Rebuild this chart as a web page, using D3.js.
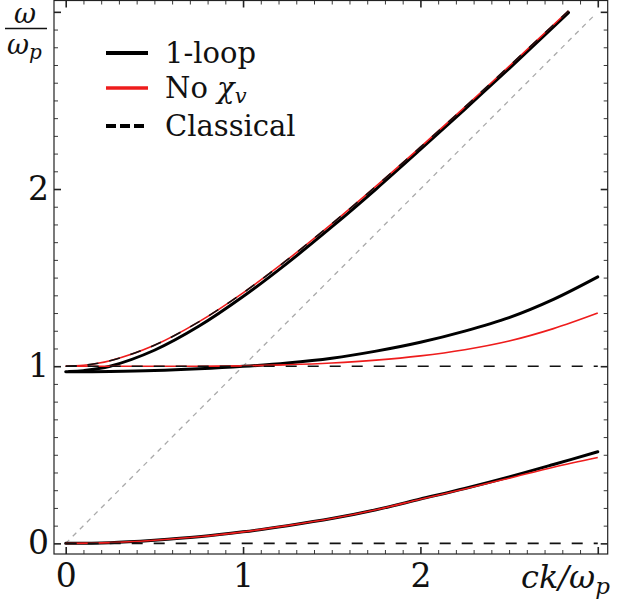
<!DOCTYPE html>
<html>
<head>
<meta charset="utf-8">
<script src="https://cdn.jsdelivr.net/npm/d3@7"></script>
<style>
  body { margin: 0; background: #fff; }
  svg text { font-family: "DejaVu Serif", serif; fill: #111; }
</style>
</head>
<body>
<div id="chart"></div>
<script>
// k grid for lower & middle branches
var kGrid = [0, 0.25, 0.5, 0.75, 1.0, 1.25, 1.5, 1.75, 2.0, 2.25, 2.5, 2.75, 3.0];
var loopLower = [0, 0.004, 0.018, 0.037, 0.065, 0.1, 0.14, 0.19, 0.25, 0.31, 0.375, 0.445, 0.517];
var noChiLower = [0, 0.004, 0.018, 0.037, 0.065, 0.1, 0.14, 0.19, 0.249, 0.307, 0.368, 0.43, 0.485];
var loopMiddle = [0.968, 0.97, 0.975, 0.985, 0.999, 1.018, 1.045, 1.085, 1.135, 1.198, 1.274, 1.377, 1.504];
var noChiMiddle = [1.0, 1.0, 1.0, 1.0, 1.002, 1.008, 1.018, 1.034, 1.058, 1.093, 1.142, 1.212, 1.30];

// upper (transverse) branch
var kUpperLoop = [0.02, 0.1, 0.25, 0.5, 0.75, 1.0, 1.25, 1.5, 1.75, 2.0, 2.25, 2.5, 2.835];
var loopUpper = [0.97, 0.975, 1.0, 1.09, 1.225, 1.393, 1.582, 1.786, 2.0, 2.223, 2.45, 2.68, 2.996];
var kUpper = [0, 0.1, 0.25, 0.5, 0.75, 1.0, 1.25, 1.5, 1.75, 2.0, 2.25, 2.5, 2.835];
var noChiUpper = [1.0, 1.005, 1.031, 1.118, 1.25, 1.414, 1.601, 1.803, 2.016, 2.236, 2.462, 2.693, 3.006];
var classicalUpper = [1.0, 1.005, 1.031, 1.118, 1.25, 1.414, 1.601, 1.803, 2.016, 2.236, 2.462, 2.693, 3.006];

// classical flat branches and light line
var kFlat = [0, 3.0];
var classicalOne = [1, 1];
var classicalZero = [0, 0];
var kLight = [0, 2.98];
var lightLine = [0, 2.98];

var majorTicks = [0, 1, 2, 3];
var tickLabels = ["0", "1", "2", ""];
var legendNames = ["1-loop", "No χv", "Classical"];

var width = 624, height = 610;
var frame = {left: 54, right: 607.7, top: 0.5, bottom: 554};

var svg = d3.select("#chart")
  .append("svg")
    .attr("width", width)
    .attr("height", height);

var x = d3.scaleLinear()
  .domain([-0.066, 3.056])
  .range([frame.left, frame.right]);

var y = d3.scaleLinear()
  .domain([-0.06, 3.064])
  .range([frame.bottom, frame.top]);

var minorTicks = d3.range(0, 31).map(function(i) { return i / 10; })
  .filter(function(v) { return Math.abs(v - Math.round(v)) > 1e-6; });

function styleAxis(g, w) {
  g.select(".domain").remove();
  g.attr("font-family", null).attr("font-size", null);
  g.selectAll(".tick line").attr("stroke", "#222").attr("stroke-width", w);
}

var fmt = function(d) { return tickLabels[majorTicks.indexOf(d)]; };

// minor ticks on all four sides
svg.append("g").attr("transform", "translate(0," + frame.bottom + ")")
  .call(d3.axisBottom(x).tickValues(minorTicks).tickSize(-4).tickFormat(""))
  .call(styleAxis, 0.9);
svg.append("g").attr("transform", "translate(0," + frame.top + ")")
  .call(d3.axisTop(x).tickValues(minorTicks).tickSize(-4).tickFormat(""))
  .call(styleAxis, 0.9);
svg.append("g").attr("transform", "translate(" + frame.left + ",0)")
  .call(d3.axisLeft(y).tickValues(minorTicks).tickSize(-4).tickFormat(""))
  .call(styleAxis, 0.9);
svg.append("g").attr("transform", "translate(" + frame.right + ",0)")
  .call(d3.axisRight(y).tickValues(minorTicks).tickSize(-4).tickFormat(""))
  .call(styleAxis, 0.9);

// major ticks + labels
var xAxis = svg.append("g").attr("transform", "translate(0," + frame.bottom + ")")
  .call(d3.axisBottom(x).tickValues(majorTicks).tickSize(-7).tickPadding(10).tickFormat(fmt))
  .call(styleAxis, 1.6);
xAxis.selectAll("text").attr("font-size", 33).attr("fill", "#111");

var yAxis = svg.append("g").attr("transform", "translate(" + frame.left + ",0)")
  .call(d3.axisLeft(y).tickValues(majorTicks).tickSize(-7).tickPadding(5).tickFormat(fmt))
  .call(styleAxis, 1.6);
yAxis.selectAll("text").attr("font-size", 33).attr("fill", "#111");

svg.append("g").attr("transform", "translate(0," + frame.top + ")")
  .call(d3.axisTop(x).tickValues(majorTicks).tickSize(-7).tickFormat(""))
  .call(styleAxis, 1.6);
svg.append("g").attr("transform", "translate(" + frame.right + ",0)")
  .call(d3.axisRight(y).tickValues(majorTicks).tickSize(-7).tickFormat(""))
  .call(styleAxis, 1.6);

// frame
svg.append("rect")
  .attr("x", frame.left).attr("y", frame.top)
  .attr("width", frame.right - frame.left)
  .attr("height", frame.bottom - frame.top)
  .attr("fill", "none").attr("stroke", "#222").attr("stroke-width", 1.2);

var line = d3.line()
  .x(function(d) { return x(d[0]); })
  .y(function(d) { return y(d[1]); })
  .curve(d3.curveCatmullRom.alpha(0.5));

function pairs(ks, vs) { return ks.map(function(k, i) { return [k, vs[i]]; }); }

var plot = svg.append("g");

// light line ω = ck
plot.append("path")
  .attr("d", line(pairs(kLight, lightLine)))
  .attr("fill", "none").attr("stroke", "#aaa").attr("stroke-width", 1.3)
  .attr("stroke-dasharray", "5,5");

var loopSeries = [pairs(kGrid, loopLower), pairs(kGrid, loopMiddle), pairs(kUpperLoop, loopUpper)];
var noChiSeries = [pairs(kGrid, noChiLower), pairs(kGrid, noChiMiddle), pairs(kUpper, noChiUpper)];
var classicalSeries = [pairs(kFlat, classicalZero), pairs(kFlat, classicalOne), pairs(kUpper, classicalUpper)];

plot.selectAll(".loop").data(loopSeries).enter().append("path")
  .attr("class", "loop")
  .attr("d", line)
  .attr("fill", "none").attr("stroke", "#000").attr("stroke-width", 3)
  .attr("stroke-linecap", "round");

plot.selectAll(".nochi").data(noChiSeries).enter().append("path")
  .attr("class", "nochi")
  .attr("d", line)
  .attr("fill", "none").attr("stroke", "#ee1c1c").attr("stroke-width", 1.6);

plot.selectAll(".classical").data(classicalSeries).enter().append("path")
  .attr("class", "classical")
  .attr("d", line)
  .attr("fill", "none").attr("stroke", "#111").attr("stroke-width", 1.6)
  .attr("stroke-dasharray", "11,11");

// legend
var legendY = [53, 88, 126];
var legendStyle = [
  {color: "#000", w: 4, dash: null},
  {color: "#ee1c1c", w: 3.5, dash: null},
  {color: "#000", w: 4, dash: "10,4"}
];
var legend = svg.append("g");
legendNames.forEach(function(name, i) {
  legend.append("line")
    .attr("x1", 106).attr("x2", 148)
    .attr("y1", legendY[i]).attr("y2", legendY[i])
    .attr("stroke", legendStyle[i].color)
    .attr("stroke-width", legendStyle[i].w)
    .attr("stroke-dasharray", legendStyle[i].dash);
});
legend.append("text").attr("x", 165).attr("y", legendY[0] + 10).attr("font-size", 29).text(legendNames[0]);
var t2 = legend.append("text").attr("x", 165).attr("y", legendY[1] + 10).attr("font-size", 29);
t2.append("tspan").text("No ");
t2.append("tspan").attr("font-style", "italic").text("χ");
t2.append("tspan").attr("font-style", "italic").attr("font-size", 21).attr("dy", 5).text("v");
legend.append("text").attr("x", 165).attr("y", legendY[2] + 10).attr("font-size", 29).text(legendNames[2]);

// y label: ω / ω_p
svg.append("text").attr("x", 25).attr("y", 23).attr("text-anchor", "middle")
  .attr("font-size", 27).attr("font-style", "italic").text("ω");
svg.append("line").attr("x1", 5).attr("x2", 47).attr("y1", 28.5).attr("y2", 28.5)
  .attr("stroke", "#111").attr("stroke-width", 1.4);
var yl = svg.append("text").attr("x", 7).attr("y", 54)
  .attr("font-size", 27).attr("font-style", "italic");
yl.append("tspan").text("ω");
yl.append("tspan").attr("font-size", 20).attr("dy", 5).text("p");

// x label: ck / ω_p
var xl = svg.append("text").attr("x", 521).attr("y", 588)
  .attr("font-size", 32).attr("font-style", "italic");
xl.append("tspan").text("ck/ω");
xl.append("tspan").attr("font-size", 23).attr("dy", 6).text("p");
</script>
</body>
</html>
